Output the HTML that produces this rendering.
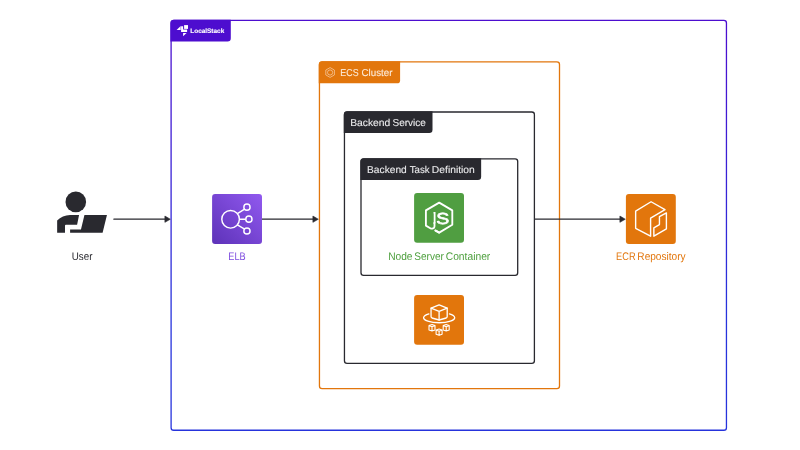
<!DOCTYPE html>
<html lang="en">
<head>
<meta charset="utf-8">
<title>LocalStack ECS architecture</title>
<style>
  html, body { margin: 0; padding: 0; background: #ffffff; }
  body { width: 800px; height: 450px; overflow: hidden; }
  svg { display: block; position: absolute; left: 0; top: 0; will-change: transform; }
  text { font-family: "Liberation Sans", sans-serif; font-size: 10px; text-rendering: geometricPrecision; stroke-width: 0.1px; stroke-linejoin: round; paint-order: stroke fill; }
</style>
</head>
<body>
<svg width="800" height="450" viewBox="0 0 800 450">
  <defs>
    <linearGradient id="lsGrad" gradientUnits="userSpaceOnUse" x1="0" y1="20" x2="0" y2="430">
      <stop offset="0" stop-color="#4D0DCF"/>
      <stop offset="0.72" stop-color="#2633DC"/>
      <stop offset="1" stop-color="#2633DC"/>
    </linearGradient>
    <linearGradient id="elbGrad" gradientUnits="userSpaceOnUse" x1="212" y1="244" x2="262" y2="194">
      <stop offset="0" stop-color="#5D32B8"/>
      <stop offset="1" stop-color="#9159EF"/>
    </linearGradient>
    <clipPath id="jsClip">
      <rect x="433.45" y="211" width="2.6" height="13"/>
      <rect x="436.2" y="210" width="14" height="16"/>
    </clipPath>
  </defs>

  <rect x="0" y="0" width="800" height="450" fill="#ffffff"/>

  <!-- LocalStack frame -->
  <g id="localstack">
    <rect x="171.1" y="20.4" width="555.35" height="409.85" rx="2.6" ry="2.6" fill="none" stroke="url(#lsGrad)" stroke-width="1.3"/>
    <path d="M170.4 23.4 a3.7 3.7 0 0 1 3.7 -3.7 H230.8 V38.3 a3.2 3.2 0 0 1 -3.2 3.2 H170.4 Z" fill="#4D0DCF"/>
    <g fill="#ffffff">
      <rect x="184.1" y="25.1" width="3.9" height="3.8"/>
      <path d="M176.6 29.9 L180.7 26 V29.9 Z"/>
      <path d="M181.1 26.2 H183.1 V29.6 H187.1 V32 H181.1 Z"/>
      <path d="M183.1 32.9 H186.6 L183.1 36.3 Z"/>
    </g>
    <text y="33" fill="#ffffff" stroke="#ffffff" font-weight="bold" style="font-size:6.6px;stroke-width:0.1px"><tspan x="190.31" textLength="33.94" lengthAdjust="spacingAndGlyphs">LocalStack</tspan></text>
  </g>

  <!-- ECS Cluster frame -->
  <g id="ecs">
    <rect x="319.45" y="61.9" width="240.05" height="326.7" rx="2.6" ry="2.6" fill="none" stroke="#E2760C" stroke-width="1.3"/>
    <path d="M318.75 64.9 a3.7 3.7 0 0 1 3.7 -3.7 H400.1 V80.15 a3.2 3.2 0 0 1 -3.2 3.2 H318.75 Z" fill="#E2760C"/>
    <g fill="none" stroke="#F8D3B0" stroke-width="0.7">
      <path d="M330.1 67.6 L334.4 70.05 V74.95 L330.1 77.4 L325.8 74.95 V70.05 Z"/>
      <circle cx="330.1" cy="72.5" r="2.6"/>
    </g>
    <text y="76" fill="#FCEBDA" stroke="#FCEBDA" style="stroke-width:0.1px"><tspan x="340.3" textLength="18.25" lengthAdjust="spacingAndGlyphs">ECS</tspan> <tspan x="361.44" textLength="31.03" lengthAdjust="spacingAndGlyphs">Cluster</tspan></text>
  </g>

  <!-- Backend Service frame -->
  <g id="service">
    <rect x="344.45" y="112" width="189.95" height="251.4" rx="2.6" ry="2.6" fill="none" stroke="#29292F" stroke-width="1.3"/>
    <path d="M343.8 115.05 a3.7 3.7 0 0 1 3.7 -3.7 H432.5 V129.85 a3.2 3.2 0 0 1 -3.2 3.2 H343.8 Z" fill="#29292F"/>
    <text y="126" fill="#ECECEE" stroke="#ECECEE" style="stroke-width:0.1px"><tspan x="350.16" textLength="40.13" lengthAdjust="spacingAndGlyphs">Backend</tspan> <tspan x="392.5" textLength="33.4" lengthAdjust="spacingAndGlyphs">Service</tspan></text>
  </g>

  <!-- Backend Task Definition frame -->
  <g id="taskdef">
    <rect x="361" y="158.9" width="156.7" height="116.55" rx="2.6" ry="2.6" fill="none" stroke="#29292F" stroke-width="1.3"/>
    <path d="M360.35 161.95 a3.7 3.7 0 0 1 3.7 -3.7 H481.15 V176.7 a3.2 3.2 0 0 1 -3.2 3.2 H360.35 Z" fill="#29292F"/>
    <text y="173" fill="#ECECEE" stroke="#ECECEE" style="stroke-width:0.1px"><tspan x="367.05" textLength="39.72" lengthAdjust="spacingAndGlyphs">Backend</tspan> <tspan x="409.69" textLength="19.94" lengthAdjust="spacingAndGlyphs">Task</tspan> <tspan x="431.87" textLength="42.94" lengthAdjust="spacingAndGlyphs">Definition</tspan></text>
  </g>

  <!-- Arrows -->
  <g id="arrows" stroke="#29292F" stroke-width="1.3" fill="#29292F" stroke-linejoin="round">
    <path d="M113.9 219.2 H166" fill="none" stroke-linecap="round"/>
    <path d="M170.3 219.2 L164.9 216.05 V222.35 Z" stroke-width="0.6"/>
    <path d="M262 219.2 H314" fill="none"/>
    <path d="M318.3 219.2 L312.9 216.05 V222.35 Z" stroke-width="0.6"/>
    <path d="M535 219.2 H621" fill="none"/>
    <path d="M625.3 219.2 L619.9 216.05 V222.35 Z" stroke-width="0.6"/>
  </g>

  <!-- User -->
  <g id="user" fill="#29292F">
    <circle cx="75.8" cy="201.9" r="10.3"/>
    <path d="M57.15 232.85 V220.6 C60.5 217 65 214.9 70.1 214.9 H79.06 L77.1 224.8 H65.9 a0.9 0.9 0 0 0 -0.9 0.9 V232.85 Z"/>
    <path d="M84.45 214.9 H106.95 L102.6 232.85 H70.1 V229.4 H80.95 Z"/>
    <text y="260" fill="#29292F" stroke="#29292F" style="font-size:11px;stroke-width:0"><tspan x="71.74" textLength="20.68" lengthAdjust="spacingAndGlyphs">User</tspan></text>
  </g>

  <!-- ELB -->
  <g id="elb">
    <rect x="212.1" y="194" width="49.9" height="50" rx="3" ry="3" fill="url(#elbGrad)"/>
    <g fill="none" stroke="#ffffff" stroke-width="1.45">
      <circle cx="230.6" cy="219.3" r="8.8"/>
      <circle cx="246.95" cy="207.2" r="3.1"/>
      <circle cx="248.9" cy="219.2" r="3.1"/>
      <circle cx="246.95" cy="231" r="3.1"/>
      <path d="M237.4 213.6 L244.6 209.2 M239.4 219.2 H245.8 M237.4 224.9 L244.6 229.1"/>
    </g>
    <text y="260" fill="#7D4BDF" stroke="#7D4BDF" style="font-size:11px;stroke-width:0"><tspan x="228.34" textLength="17.37" lengthAdjust="spacingAndGlyphs">ELB</tspan></text>
  </g>

  <!-- Node container -->
  <g id="node">
    <rect x="414.1" y="193" width="49.9" height="49.8" rx="3" ry="3" fill="#509E41"/>
    <g fill="none" stroke="#ffffff" stroke-width="1.85" stroke-linejoin="round" stroke-linecap="round">
      <path d="M434.5 222 V226.2 C434.5 228.6 432 229.2 430.3 228.2 L425.9 225.6 V210.4 L439.2 202.6 L452.3 210.4 V224.8 L439.2 232.6 L435.2 230.4" stroke-linecap="butt"/>
      <path d="M439.2 232.6 L435.2 230.4"/>
    </g>
    <text clip-path="url(#jsClip)" fill="#ffffff" stroke="#ffffff" style="stroke-width:0"><tspan x="426.75" y="226" style="font-size:20.4px;stroke-width:0">J</tspan><tspan x="436.25" y="224" textLength="13" lengthAdjust="spacingAndGlyphs" style="font-size:16px;stroke-width:0.65px">S</tspan></text>
    <text y="260" fill="#4FA03F" stroke="#4FA03F" style="font-size:11px;stroke-width:0"><tspan x="388.14" textLength="24.36" lengthAdjust="spacingAndGlyphs">Node</tspan> <tspan x="414.28" textLength="29.58" lengthAdjust="spacingAndGlyphs">Server</tspan> <tspan x="445.72" textLength="44.55" lengthAdjust="spacingAndGlyphs">Container</tspan></text>
  </g>

  <!-- Fargate -->
  <g id="fargate">
    <rect x="414.1" y="294.9" width="49.9" height="49.8" rx="3" ry="3" fill="#E2760C"/>
    <g fill="none" stroke="#ffffff" stroke-width="1.3" stroke-linejoin="round" stroke-linecap="round">
      <path d="M439.1 304.8 L447.2 308.2 V316.6 Q447.2 317.6 446.2 318 L439.1 320 L432 318 Q431.05 317.6 431.05 316.6 V308.2 Z"/>
      <path d="M431.05 308.2 L439.1 311.4 L447.2 308.2 M439.1 311.4 V320"/>
      <path d="M428.9 313.9 A15.55 5.05 0 1 0 449.4 313.9"/>
    </g>
    <g fill="none" stroke="#ffffff" stroke-width="1.1" stroke-linejoin="round" stroke-linecap="round">
      <path d="M432.0 324.55 L435.00 325.55 V329.95 L432.0 330.95 L429.00 329.95 V325.55 Z M429.00 325.55 L432.0 326.85 L435.00 325.55 M432.0 326.85 V330.95"/>
      <path d="M446.2 324.55 L449.20 325.55 V329.95 L446.2 330.95 L443.20 329.95 V325.55 Z M443.20 325.55 L446.2 326.85 L449.20 325.55 M446.2 326.85 V330.95"/>
      <path d="M439.1 328.95 L442.10 329.95 V334.35 L439.1 335.35 L436.10 334.35 V329.95 Z M436.10 329.95 L439.1 331.25 L442.10 329.95 M439.1 331.25 V335.35"/>
    </g>
  </g>

  <!-- ECR -->
  <g id="ecr">
    <rect x="625.9" y="194" width="49.9" height="50" rx="3" ry="3" fill="#E2760C"/>
    <g fill="none" stroke="#ffffff" stroke-width="1.4" stroke-linejoin="round">
      <path d="M651.05 201.75 L665 209.65 L650.6 218.05 V236.2 L635.65 228.3 V211.05 Z"/>
      <path d="M666.4 212.9 V228.8 L653.85 236.2 V227.85 L659.45 224.55 V216.65 Z"/>
    </g>
    <text y="260" fill="#E2760C" stroke="#E2760C" style="font-size:11px;stroke-width:0"><tspan x="616.1" textLength="19.53" lengthAdjust="spacingAndGlyphs">ECR</tspan> <tspan x="637.33" textLength="48.3" lengthAdjust="spacingAndGlyphs">Repository</tspan></text>
  </g>
</svg>
</body>
</html>
